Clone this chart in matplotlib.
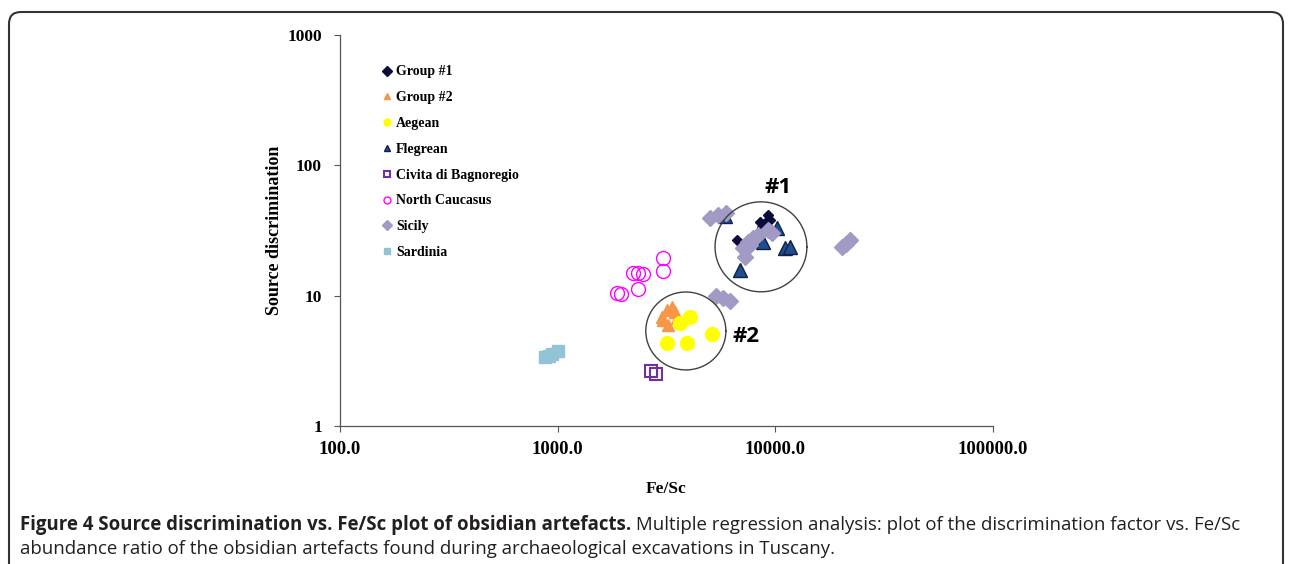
import numpy as np
import matplotlib
matplotlib.use("Agg")
import matplotlib.pyplot as plt
from matplotlib.patches import FancyBboxPatch
from matplotlib.ticker import NullLocator

# data (Fe/Sc, source discrimination)
group1_x = [6670, 8490, 8670, 8950, 9240, 8770, 9460]
group1_y = [26.8, 36.8, 33.7, 36.1, 41.6, 31.9, 38.2]

group2_x = [3010, 3180, 3350, 3460, 3210, 3530, 3050]
group2_y = [6.86, 7.77, 8.19, 7.50, 5.96, 6.74, 6.51]

aegean_x = [3650, 4050, 3180, 3930, 5120]
aegean_y = [6.17, 6.86, 4.33, 4.33, 5.08]

flegrean_x = [6870, 5860, 10160, 8770, 11070, 11670]
flegrean_y = [15.7, 40.9, 33.1, 25.8, 23.2, 23.6]

civita_x = [2690, 2830]
civita_y = [2.64, 2.51]

caucasus_x = [1870, 1950, 2220, 2340, 2470, 2340, 3050, 3050]
caucasus_y = [10.5, 10.3, 14.9, 14.9, 14.7, 11.3, 19.5, 15.5]

sicily_x = [5010, 5450, 5930, 7100, 7250, 7480, 7890, 8320, 9240, 9640, 7640,
            20230, 21100, 22030, 5330, 5740, 6180]
sicily_y = [39.5, 41.6, 43.1, 23.2, 19.8, 25.8, 27.7, 29.2, 31.9, 30.3, 24.5,
            23.6, 24.9, 26.8, 9.95, 9.6, 9.1]

sardinia_x = [874, 910, 942, 1003]
sardinia_y = [3.38, 3.45, 3.57, 3.76]

xticks = [100, 1000, 10000, 100000]
xticklabels = ["100.0", "1000.0", "10000.0", "100000.0"]
yticks = [1, 10, 100, 1000]
yticklabels = ["1", "10", "100", "1000"]

# group circles: centre (Fe/Sc, SD) and half-width in decades (x, y)
circle_centres = [(8590, 23.7), (3880, 5.36)]
circle_radii = [(0.211, 0.345), (0.184, 0.299)]
circle_labels = ["#1", "#2"]
label_pos = [(10300, 68), (7300, 4.9)]

caption_bold = "Figure 4 Source discrimination vs. Fe/Sc plot of obsidian artefacts."
caption_rest = " Multiple regression analysis: plot of the discrimination factor vs. Fe/Sc"
caption_line2 = ("abundance ratio of the obsidian artefacts found during "
                 "archaeological excavations in Tuscany.")

W, H = 1293, 564
fig = plt.figure(figsize=(W / 100, H / 100), dpi=100)
ax = fig.add_axes([340 / W, 1 - 426 / H, 653 / W, 391 / H])

serif = "Liberation Serif"

ax.plot(group1_x, group1_y, "D", color="#0c0c3a", ms=5.5, label="Group #1")
ax.plot(group2_x, group2_y, "^", color="#f79646", ms=9, label="Group #2")
ax.plot(aegean_x, aegean_y, "o", color="#ffff00", ms=10, label="Aegean")
ax.plot(flegrean_x, flegrean_y, "^", mfc="#1f4e8c", mec="#0f1f4f", mew=1,
        ms=10, label="Flegrean")
ax.plot(civita_x, civita_y, "s", mfc="none", mec="#7030a0", mew=1.5, ms=9,
        label="Civita di Bagnoregio")
ax.plot(caucasus_x, caucasus_y, "o", mfc="none", mec="#ff00ff", mew=1, ms=10,
        label="North Caucasus")
ax.plot(sicily_x, sicily_y, "D", color="#a09ac4", ms=8, label="Sicily")
ax.plot(sardinia_x, sardinia_y, "s", color="#93c4d6", ms=9, label="Sardinia")

t = np.linspace(0, 2 * np.pi, 300)
for (cx, cy), (a, b), lab, (lx, ly) in zip(circle_centres, circle_radii,
                                           circle_labels, label_pos):
    ex = 10 ** (np.log10(cx) + a * np.cos(t))
    ey = 10 ** (np.log10(cy) + b * np.sin(t))
    ax.plot(ex, ey, color="#404040", lw=1.0)
    ax.text(lx, ly, lab, fontsize=16, fontweight="bold", family="Open Sans",
            ha="center", va="center")

ax.set_xscale("log")
ax.set_yscale("log")
ax.set_xlim(100, 100000)
ax.set_ylim(1, 1000)
ax.set_xticks(xticks)
ax.set_xticklabels(xticklabels, fontsize=13.5, fontweight="bold", family=serif)
ax.set_yticks(yticks)
ax.set_yticklabels(yticklabels, fontsize=12.5, fontweight="bold", family=serif)
ax.xaxis.set_minor_locator(NullLocator())
ax.yaxis.set_minor_locator(NullLocator())
ax.tick_params(direction="out", length=4, width=0.8, color="#555555")
ax.tick_params(axis="x", pad=7)
ax.tick_params(axis="y", pad=9)
for s in ["top", "right"]:
    ax.spines[s].set_visible(False)
for s in ["left", "bottom"]:
    ax.spines[s].set_color("#555555")
    ax.spines[s].set_linewidth(0.9)

ax.set_xlabel("Fe/Sc", fontsize=12.5, fontweight="bold", family=serif)
ax.xaxis.set_label_coords(0.5, -0.14)
ax.set_ylabel("Source discrimination", fontsize=13, fontweight="bold", family=serif)
ax.yaxis.set_label_coords(-0.088, 0.5)

leg = ax.legend(loc="upper left", bbox_to_anchor=(0.066, 0.922), frameon=False,
                prop={"family": serif, "weight": "bold", "size": 10},
                handlelength=0.6, handletextpad=0.35, labelspacing=0.92,
                borderpad=0, borderaxespad=0)
for h in leg.legend_handles:
    h.set_markersize(5)

# caption below the plot
cap = dict(fontsize=13.4, family="Open Sans", color="#231f20")
t1 = fig.text(20 / W, 1 - 525 / H, caption_bold, fontweight="bold",
              ha="left", va="center", **cap)
ax.annotate(caption_rest, xy=(1, 0.5), xycoords=t1, ha="left", va="center",
            annotation_clip=False, **cap)
fig.text(20 / W, 1 - 549 / H, caption_line2, ha="left", va="center", **cap)

# rounded frame around the figure (runs off the bottom edge)
frame = FancyBboxPatch((9 / 100, -30 / 100), 1274 / 100, (H - 12 + 30) / 100,
                       boxstyle="round,pad=0,rounding_size=0.12",
                       transform=fig.dpi_scale_trans, fill=False,
                       ec="#333333", lw=1.5)
fig.add_artist(frame)

fig.savefig("out.png", dpi=100)
